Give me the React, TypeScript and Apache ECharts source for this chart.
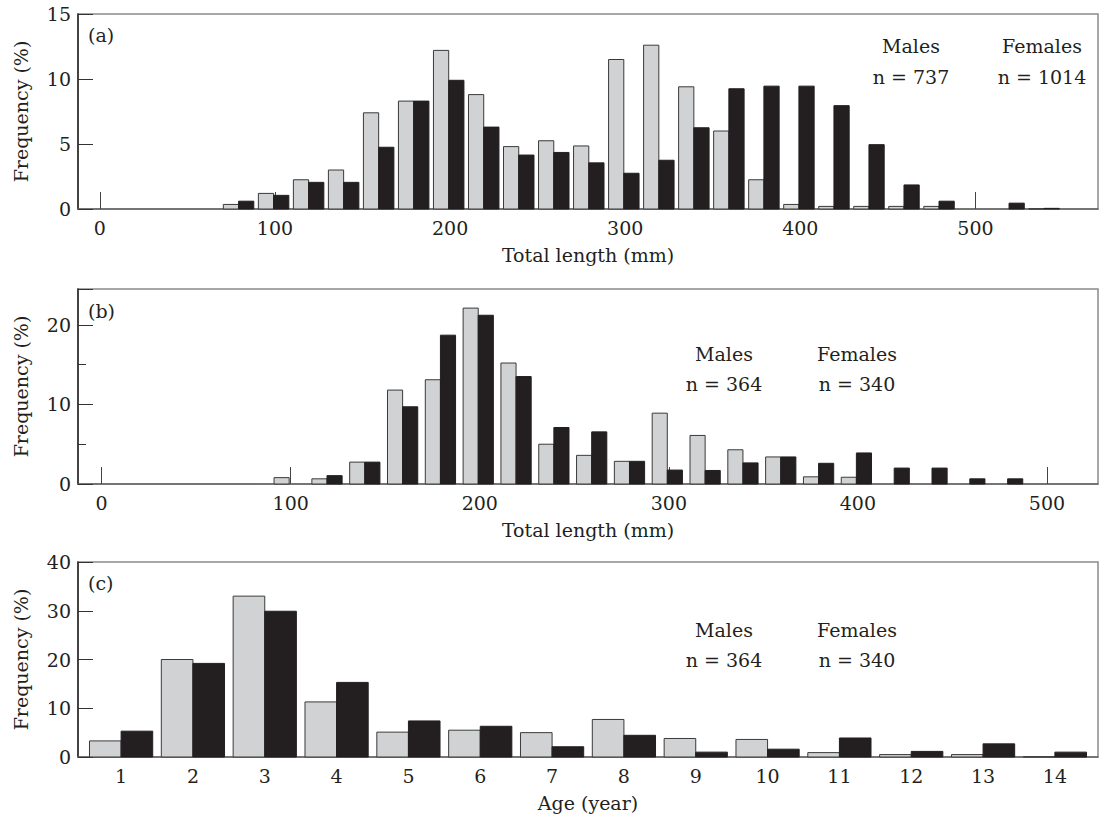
import React, { useEffect, useRef } from 'react';
import * as echarts from 'echarts';

// ---------- data ----------
const lengthBinsA = [80, 100, 120, 140, 160, 180, 200, 220, 240, 260, 280, 300, 320, 340, 360, 380, 400, 420, 440, 460, 480, 500, 520, 540];
const malesA = [0.35, 1.2, 2.25, 3.0, 7.4, 8.3, 12.2, 8.8, 4.8, 5.25, 4.85, 11.5, 12.6, 9.4, 6.0, 2.25, 0.35, 0.2, 0.2, 0.2, 0.2, 0, 0, 0.02];
const femalesA = [0.6, 1.05, 2.05, 2.05, 4.75, 8.3, 9.9, 6.3, 4.15, 4.35, 3.55, 2.75, 3.75, 6.25, 9.25, 9.45, 9.45, 7.95, 4.95, 1.85, 0.6, 0, 0.45, 0.05];

const lengthBinsB = [100, 120, 140, 160, 180, 200, 220, 240, 260, 280, 300, 320, 340, 360, 380, 400, 420, 440, 460, 480];
const malesB = [0.8, 0.65, 2.75, 11.8, 13.1, 22.1, 15.2, 5.0, 3.6, 2.85, 8.9, 6.1, 4.3, 3.4, 0.9, 0.85, 0, 0, 0, 0];
const femalesB = [0, 1.05, 2.75, 9.7, 18.7, 21.2, 13.5, 7.1, 6.55, 2.85, 1.75, 1.7, 2.65, 3.4, 2.6, 3.9, 2.0, 2.0, 0.65, 0.65];

const ages = [1, 2, 3, 4, 5, 6, 7, 8, 9, 10, 11, 12, 13, 14];
const malesC = [3.3, 20.0, 33.0, 11.3, 5.1, 5.5, 5.0, 7.7, 3.8, 3.6, 0.9, 0.5, 0.5, 0.05];
const femalesC = [5.3, 19.2, 29.9, 15.3, 7.4, 6.3, 2.1, 4.45, 1.0, 1.6, 3.9, 1.15, 2.7, 1.0];

const lengthTicks = [0, 100, 200, 300, 400, 500];
const panelLabels = ['(a)', '(b)', '(c)'];
const maleCounts = ['n = 737', 'n = 364', 'n = 364'];
const femaleCounts = ['n = 1014', 'n = 340', 'n = 340'];

// ---------- style ----------
const FONT = 'DejaVu Serif';
const INK = '#231f20';
const LIGHT = '#d1d2d4';
const FS = 19;

const GRIDS = [
  { left: 78, top: 14, width: 1020, height: 195 },
  { left: 78, top: 289, width: 1020, height: 195 },
  { left: 78, top: 562, width: 1020, height: 195 },
];

function barSeries(name: string, bins: number[], values: number[], idx: number, x0: number, x1: number, fill: string, stroke: string) {
  return {
    type: 'custom',
    name,
    xAxisIndex: idx,
    yAxisIndex: idx,
    data: bins.map((b, i) => [b, values[i]]),
    encode: { x: 0, y: 1 },
    renderItem: (params: any, api: any) => {
      const c = api.value(0);
      const v = api.value(1);
      if (!(v > 0)) return null;
      const p0 = api.coord([c + x0, v]);
      const p1 = api.coord([c + x1, 0]);
      return {
        type: 'rect',
        shape: { x: p0[0], y: p0[1], width: p1[0] - p0[0], height: p1[1] - p0[1] },
        style: { fill, stroke, lineWidth: 1 },
      };
    },
  };
}

function xAxis(idx: number, min: number, max: number, ticks: number[], name: string, showTicks: boolean) {
  return {
    type: 'value',
    gridIndex: idx,
    min,
    max,
    name,
    nameLocation: 'middle',
    nameGap: 36,
    nameTextStyle: { fontFamily: FONT, fontSize: FS, color: INK },
    axisLine: { show: true, onZero: false, lineStyle: { color: '#666', width: 1.5 } },
    axisTick: { show: showTicks, inside: true, length: 17, customValues: ticks, lineStyle: { color: '#444', width: 1 } },
    axisLabel: { customValues: ticks, margin: 9, fontFamily: FONT, fontSize: FS, color: INK },
    splitLine: { show: false },
  };
}

function yAxis(idx: number, max: number, interval: number, minor: boolean) {
  return {
    type: 'value',
    gridIndex: idx,
    min: 0,
    max,
    interval,
    name: 'Frequency (%)',
    nameLocation: 'middle',
    nameGap: 48,
    nameTextStyle: { fontFamily: FONT, fontSize: FS, color: INK },
    axisLine: { show: true, onZero: false, lineStyle: { color: '#222', width: 1.5 } },
    axisTick: { show: true, inside: true, length: 15, lineStyle: { color: '#333', width: 1 } },
    minorTick: { show: minor, splitNumber: 2, length: 8, lineStyle: { color: '#333', width: 1 } },
    axisLabel: { margin: 7, fontFamily: FONT, fontSize: FS, color: INK, showMaxLabel: !minor },
    splitLine: { show: false },
    minorSplitLine: { show: false },
  };
}

function txt(x: number, y: number, text: string, align: string = 'center') {
  return {
    type: 'text',
    x,
    y,
    style: { text, fill: INK, font: `${FS}px "${FONT}"`, textAlign: align, textVerticalAlign: 'middle' },
  };
}

export default function App() {
  const ref = useRef<HTMLDivElement>(null);
  useEffect(() => {
    document.body.style.margin = '0';
    if (!ref.current) return;
    const chart = echarts.init(ref.current, undefined, { renderer: 'svg' });
    const noteY = [[46, 77], [354, 384], [630, 660]];
    const maleX = [911, 724, 724];
    const femaleX = [1042, 857, 857];
    const labelY = [35, 311, 583];
    const graphics: any[] = [];
    for (let i = 0; i < 3; i++) {
      graphics.push(txt(88, labelY[i], panelLabels[i], 'left'));
      graphics.push(txt(maleX[i], noteY[i][0], 'Males'));
      graphics.push(txt(maleX[i], noteY[i][1], maleCounts[i]));
      graphics.push(txt(femaleX[i], noteY[i][0], 'Females'));
      graphics.push(txt(femaleX[i], noteY[i][1], femaleCounts[i]));
    }
    chart.setOption({
      animation: false,
      backgroundColor: '#ffffff',
      textStyle: { fontFamily: FONT },
      grid: GRIDS.map((g) => ({ ...g, show: true, borderColor: '#8a8a8a', borderWidth: 1.5, containLabel: false })),
      xAxis: [
        xAxis(0, -12.5, 570, lengthTicks, 'Total length (mm)', true),
        xAxis(1, -12.5, 527, lengthTicks, 'Total length (mm)', true),
        xAxis(2, 0.4, 14.6, ages, 'Age (year)', false),
      ],
      yAxis: [yAxis(0, 15, 5, false), yAxis(1, 24.5, 10, true), yAxis(2, 40, 10, false)],
      series: [
        barSeries('Males (a)', lengthBinsA, malesA, 0, -9.5, -0.8, LIGHT, '#3a3a3a'),
        barSeries('Females (a)', lengthBinsA, femalesA, 0, -0.8, 7.9, INK, INK),
        barSeries('Males (b)', lengthBinsB, malesB, 1, -8.8, -0.8, LIGHT, '#3a3a3a'),
        barSeries('Females (b)', lengthBinsB, femalesB, 1, -0.8, 7.2, INK, INK),
        barSeries('Males (c)', ages, malesC, 2, -0.44, 0, LIGHT, '#3a3a3a'),
        barSeries('Females (c)', ages, femalesC, 2, 0, 0.44, INK, INK),
      ],
      graphic: graphics,
    });
    return () => chart.dispose();
  }, []);
  return <div ref={ref} style={{ width: 1102, height: 818 }} />;
}
